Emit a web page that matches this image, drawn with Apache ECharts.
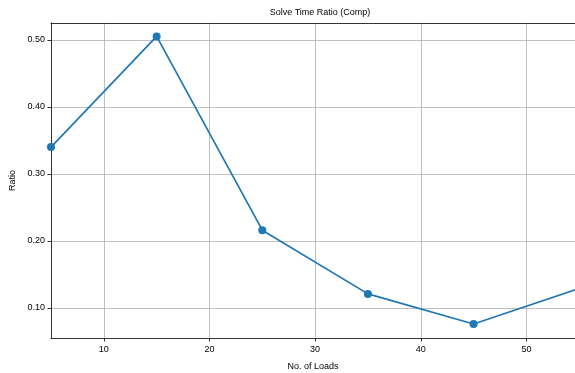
<!DOCTYPE html>
<html>
<head>
<meta charset="utf-8">
<script src="https://cdn.jsdelivr.net/npm/echarts@6/dist/echarts.min.js"></script>
<style>
  html, body { margin: 0; padding: 0; background: #fff; }
  #chart { width: 575px; height: 373px; }
</style>
</head>
<body>
<div id="chart"></div>
<script>
// Number of loads and the measured solve-time ratio
const loads = [5, 15, 25, 35, 45, 55];
const ratios = [0.340, 0.505, 0.216, 0.121, 0.076, 0.129];
const xTicks = [10, 20, 30, 40, 50];
const yTicks = [0.1, 0.2, 0.3, 0.4, 0.5];

const FONT = 'Liberation Sans, Arial, sans-serif';
const X_MIN = 5, X_MAX = 54.6;
const chart = echarts.init(document.getElementById('chart'), null, { renderer: 'canvas' });

chart.setOption({
  animation: false,
  backgroundColor: '#ffffff',
  title: {
    text: 'Solve Time Ratio (Comp)',
    left: 315, top: 3, textAlign: 'center',
    textStyle: { fontFamily: FONT, fontSize: 9, fontWeight: 'normal', color: '#000' }
  },
  grid: { left: 51, right: 0, top: 23, bottom: 35, show: false, containLabel: false, outerBoundsMode: 'none' },
  xAxis: [{
    type: 'value', min: X_MIN, max: X_MAX,
    name: 'No. of Loads', nameLocation: 'middle', nameGap: 24,
    nameTextStyle: { fontFamily: FONT, fontSize: 9, color: '#000' },
    axisLine: { show: true, lineStyle: { color: '#000', width: 0.8 } },
    axisTick: { show: true, length: 3.5, inside: false, customValues: xTicks, lineStyle: { color: '#000', width: 0.8 } },
    axisLabel: { customValues: xTicks, fontFamily: FONT, fontSize: 9, color: '#000', margin: 7 },
    splitLine: { show: true, lineStyle: { color: '#b0b0b0', width: 0.8 } }
  }, {
    // top frame line
    type: 'value', position: 'top', min: X_MIN, max: X_MAX,
    axisLine: { show: true, onZero: false, lineStyle: { color: '#000', width: 0.8 } },
    axisTick: { show: false }, axisLabel: { show: false }, splitLine: { show: false }
  }],
  yAxis: {
    type: 'value', min: 0.0552, max: 0.525,
    name: 'Ratio', nameLocation: 'middle', nameGap: 28,
    nameTextStyle: { fontFamily: FONT, fontSize: 9, color: '#000' },
    axisLine: { show: true, onZero: false, lineStyle: { color: '#000', width: 0.8 } },
    axisTick: { show: true, length: 3.5, inside: false, customValues: yTicks, lineStyle: { color: '#000', width: 0.8 } },
    axisLabel: {
      customValues: yTicks, fontFamily: FONT, fontSize: 9, color: '#000', margin: 6,
      formatter: v => v.toFixed(2)
    },
    splitLine: { show: true, lineStyle: { color: '#b0b0b0', width: 0.8 } }
  },
  series: [{
    type: 'line',
    xAxisIndex: 0,
    data: loads.map((x, i) => [x, ratios[i]]),
    symbol: 'circle', symbolSize: 8,
    clip: true,
    lineStyle: { color: '#1f77b4', width: 1.7 },
    itemStyle: { color: '#1f77b4' }
  }]
});
</script>
</body>
</html>
